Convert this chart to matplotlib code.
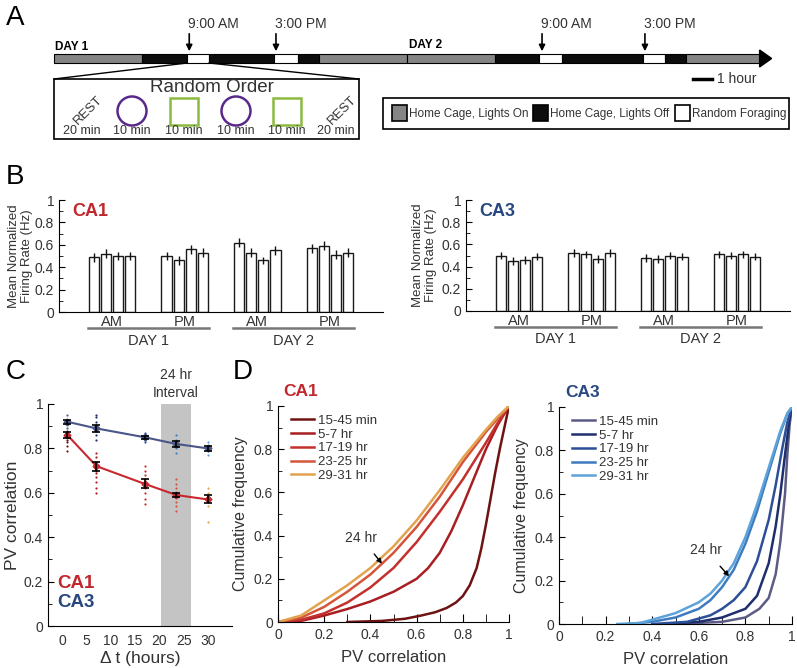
import matplotlib
matplotlib.use("Agg")
import matplotlib.pyplot as plt
from matplotlib.patches import Rectangle, Circle, Polygon
from matplotlib.ticker import MultipleLocator, FuncFormatter
import matplotlib.transforms as mtransforms

plt.rcParams['font.family'] = ['Liberation Sans', 'DejaVu Sans']

RED = '#c0282d'
BLUE = '#28467f'
TXT = '#333333'

# ---- panel A: timeline (hours from start of day 1) ----
tl_edges = [0, 6.0, 9.05, 10.55, 15.0, 16.6, 18.0, 24.0, 30.0, 33.0, 34.55, 40.05, 41.55, 43.0, 48.0]
tl_states = ['on', 'off', 'rf', 'off', 'rf', 'off', 'on', 'on', 'off', 'rf', 'off', 'rf', 'off', 'on']
tl_arrows = [9.2, 15.1, 33.2, 40.2]
tl_arrow_labels = ['9:00 AM', '3:00 PM', '9:00 AM', '3:00 PM']
state_colors = {'on': '#858585', 'off': '#0d0d0d', 'rf': 'white'}
state_names = {'on': 'Home Cage, Lights On', 'off': 'Home Cage, Lights Off', 'rf': 'Random Foraging'}
session_items = ['REST', 'circle', 'square', 'circle', 'square', 'REST']
session_mins = [20, 10, 10, 10, 10, 20]

# ---- panel B: mean normalized firing rate ----
groups = ['AM', 'PM', 'AM', 'PM']
days = ['DAY 1', 'DAY 2']
ca1_rate = [0.49, 0.52, 0.50, 0.50, 0.50, 0.46, 0.56, 0.53,
            0.62, 0.53, 0.46, 0.55, 0.57, 0.59, 0.51, 0.53]
ca1_rate_err = [0.04, 0.04, 0.04, 0.04, 0.04, 0.04, 0.04, 0.04,
                0.04, 0.04, 0.035, 0.04, 0.04, 0.04, 0.04, 0.04]
ca3_rate = [0.50, 0.45, 0.46, 0.49, 0.52, 0.51, 0.47, 0.52,
            0.48, 0.47, 0.50, 0.49, 0.51, 0.50, 0.51, 0.49]
ca3_rate_err = [0.035, 0.035, 0.035, 0.03, 0.035, 0.035, 0.035, 0.035,
                0.035, 0.035, 0.035, 0.03, 0.03, 0.03, 0.035, 0.03]

# ---- panel C: PV correlation vs delta t ----
dt_hours = [1, 7, 17, 23.5, 30]
ca1_pv = [0.86, 0.72, 0.64, 0.59, 0.57]
ca1_pv_err = [0.012, 0.02, 0.02, 0.01, 0.018]
ca3_pv = [0.92, 0.89, 0.85, 0.82, 0.80]
ca3_pv_err = [0.01, 0.015, 0.008, 0.012, 0.01]
ca1_indiv = [[0.79, 0.81, 0.83, 0.84, 0.85, 0.86, 0.87, 0.88],
             [0.60, 0.62, 0.65, 0.67, 0.69, 0.70, 0.72, 0.74, 0.76, 0.78],
             [0.55, 0.57, 0.60, 0.62, 0.64, 0.66, 0.68, 0.70, 0.72],
             [0.52, 0.54, 0.56, 0.58, 0.59, 0.60, 0.62, 0.64, 0.66],
             [0.47, 0.54, 0.56, 0.58, 0.60, 0.62]]
ca3_indiv = [[0.89, 0.91, 0.93, 0.95],
             [0.84, 0.86, 0.88, 0.90, 0.92, 0.94, 0.95],
             [0.83, 0.84, 0.86, 0.87],
             [0.78, 0.80, 0.82, 0.84, 0.86],
             [0.77, 0.79, 0.81, 0.83]]

# ---- panel D: cumulative PV correlation ----
interval_labels = ['15-45 min', '5-7 hr', '17-19 hr', '23-25 hr', '29-31 hr']
ca1_colors = ['#6e1212', '#a81e22', '#c4302c', '#d4553a', '#e3a24e']
ca3_colors = ['#5b5b86', '#1f2f6e', '#2c4f98', '#3f7bbf', '#5da3da']
ca1_cdf_x = [[0.3, 0.45, 0.55, 0.62, 0.68, 0.73, 0.77, 0.8, 0.83, 0.86, 0.88, 0.9, 0.92, 0.94, 0.96, 0.98, 1.0],
             [0, 0.1, 0.2, 0.3, 0.4, 0.5, 0.6, 0.65, 0.7, 0.75, 0.8, 0.85, 0.9, 0.95, 1.0],
             [0, 0.1, 0.2, 0.3, 0.4, 0.5, 0.6, 0.7, 0.8, 0.9, 0.95, 1.0],
             [0, 0.1, 0.2, 0.3, 0.4, 0.5, 0.6, 0.7, 0.8, 0.9, 0.95, 1.0],
             [0, 0.1, 0.2, 0.3, 0.4, 0.5, 0.6, 0.7, 0.8, 0.9, 0.95, 1.0]]
ca1_cdf_y = [[0, 0.005, 0.015, 0.03, 0.045, 0.065, 0.09, 0.12, 0.17, 0.25, 0.34, 0.45, 0.57, 0.69, 0.80, 0.90, 1.0],
             [0, 0.005, 0.03, 0.06, 0.095, 0.14, 0.20, 0.25, 0.32, 0.42, 0.54, 0.67, 0.80, 0.91, 1.0],
             [0, 0.01, 0.04, 0.09, 0.16, 0.25, 0.37, 0.51, 0.66, 0.83, 0.92, 1.0],
             [0, 0.02, 0.07, 0.14, 0.22, 0.32, 0.44, 0.58, 0.74, 0.88, 0.94, 1.0],
             [0, 0.03, 0.10, 0.17, 0.25, 0.35, 0.47, 0.61, 0.76, 0.89, 0.95, 1.0]]
ca3_cdf_x = [[0.5, 0.7, 0.8, 0.86, 0.9, 0.93, 0.95, 0.97, 0.98, 0.99, 1.0],
             [0.45, 0.6, 0.7, 0.8, 0.85, 0.9, 0.93, 0.95, 0.97, 0.99, 1.0],
             [0.4, 0.55, 0.65, 0.7, 0.75, 0.8, 0.85, 0.9, 0.93, 0.96, 0.98, 1.0],
             [0.3, 0.4, 0.5, 0.6, 0.65, 0.7, 0.75, 0.8, 0.85, 0.9, 0.95, 0.98, 1.0],
             [0.25, 0.35, 0.4, 0.5, 0.6, 0.65, 0.7, 0.75, 0.8, 0.85, 0.9, 0.95, 0.98, 1.0]]
ca3_cdf_y = [[0, 0.01, 0.03, 0.07, 0.12, 0.23, 0.38, 0.60, 0.78, 0.92, 1.0],
             [0, 0.01, 0.03, 0.07, 0.13, 0.28, 0.45, 0.60, 0.78, 0.95, 1.0],
             [0, 0.01, 0.04, 0.07, 0.11, 0.17, 0.29, 0.48, 0.64, 0.82, 0.93, 1.0],
             [0, 0.01, 0.03, 0.07, 0.11, 0.17, 0.25, 0.37, 0.52, 0.70, 0.88, 0.97, 1.0],
             [0, 0.005, 0.02, 0.05, 0.10, 0.14, 0.20, 0.28, 0.40, 0.55, 0.72, 0.89, 0.97, 1.0]]

fig = plt.figure(figsize=(7.97, 6.68), dpi=100)

# ================= A =================
axA = fig.add_axes([0, 0, 1, 1])
axA.set_xlim(0, 797)
axA.set_ylim(668, 0)
axA.axis('off')

X0, PXH = 54, 14.7   # timeline origin (px) and px per hour
def hx(h):
    return X0 + h * PXH

bar_top, bar_bot = 54, 63
for i, st in enumerate(tl_states):
    x0, x1 = hx(tl_edges[i]), hx(tl_edges[i + 1])
    axA.add_patch(Rectangle((x0, bar_top), x1 - x0, bar_bot - bar_top,
                            facecolor=state_colors[st], edgecolor='black', lw=0.8))
xe = hx(tl_edges[-1])
axA.add_patch(Polygon([[xe, bar_top - 4], [xe + 12, (bar_top + bar_bot) / 2], [xe, bar_bot + 4]],
                      closed=True, facecolor='black', edgecolor='black'))
for h, lab in zip(tl_arrows, tl_arrow_labels):
    axA.annotate('', xy=(hx(h), bar_top), xytext=(hx(h), 31),
                 arrowprops=dict(arrowstyle='-|>', color='black', lw=1.2, mutation_scale=9))
    axA.text(hx(h) - 1, 24, lab, fontsize=10, ha='left', va='center', color=TXT)
axA.text(hx(0) + 1, 47, 'DAY 1', fontsize=8.5, fontweight='bold', ha='left', va='center')
axA.text(hx(24) + 2, 45, 'DAY 2', fontsize=8.5, fontweight='bold', ha='left', va='center')

# zoom box for first session
s0, s1 = hx(tl_edges[2]), hx(tl_edges[3])
bx0, bx1, by0, by1 = 54, 359, 79, 139
axA.plot([s0, bx0], [bar_bot, by0], color='black', lw=1)
axA.plot([s1, bx1], [bar_bot, by0], color='black', lw=1)
axA.add_patch(Rectangle((bx0, by0), bx1 - bx0, by1 - by0, facecolor='white', edgecolor='black', lw=1.2))
axA.text((bx0 + bx1) / 2 + 5, 88, 'Random Order', fontsize=13.5, ha='center', va='center', color=TXT)
item_x = [82, 132, 184, 236, 287, 336]
for xi, item, m in zip(item_x, session_items, session_mins):
    if item == 'REST':
        axA.text(xi + 6, 110, 'REST', fontsize=9.5, rotation=45, ha='center', va='center', color=TXT)
    elif item == 'circle':
        axA.add_patch(Circle((xi, 111), 14.5, facecolor='none', edgecolor='#5a2a8a', lw=1.8))
    else:
        axA.add_patch(Rectangle((xi - 14, 97.5), 28, 27, facecolor='none', edgecolor='#8abb3e', lw=1.8))
    axA.text(xi, 131, f'{m} min', fontsize=9, ha='center', va='center', color=TXT)

# scale bar
axA.plot([693, 712], [79, 79], color='black', lw=2.5)
axA.text(717, 79, '1 hour', fontsize=10, ha='left', va='center', color=TXT)

# legend box
axA.add_patch(Rectangle((383, 98), 406, 31, facecolor='white', edgecolor='black', lw=1.2))
for xl, st in zip([392, 533, 675], ['on', 'off', 'rf']):
    axA.add_patch(Rectangle((xl, 105), 15, 16, facecolor=state_colors[st], edgecolor='black', lw=1.2))
    axA.text(xl + 17, 113.5, state_names[st], fontsize=8.5, ha='left', va='center', color=TXT)

for lab, (x, y) in zip('ABCD', [(6, 18), (6, 177), (6, 372), (233, 372)]):
    fig.text(x / 797, 1 - y / 668, lab, fontsize=20, ha='left', va='center')


# ================= B =================
def style_axes(ax):
    ax.spines['top'].set_visible(False)
    ax.spines['right'].set_visible(False)
    ax.tick_params(direction='in', labelsize=10, labelcolor=TXT, length=4)
    ax.tick_params(which='minor', direction='in', length=3)


def bar_panel(ax, vals, errs, name, color, label_x):
    xs = [g * 6 + i for g in range(4) for i in range(4)]
    ax.bar(xs, vals, width=0.85, color='white', edgecolor='#1a1a1a', lw=1)
    ax.errorbar(xs, vals, yerr=errs, fmt='none', ecolor='#111111', elinewidth=1)
    ax.set_xlim(-2.9, 23.9)
    ax.set_ylim(0, 1)
    style_axes(ax)
    ax.set_xticks([])
    ax.yaxis.set_major_locator(MultipleLocator(0.2))
    ax.yaxis.set_minor_locator(MultipleLocator(0.1))
    ax.yaxis.set_major_formatter(FuncFormatter(lambda v, p: f'{v:g}'))
    ax.set_ylabel('Mean Normalized\nFiring Rate (Hz)', fontsize=9.5, color=TXT, linespacing=1.15)
    ax.yaxis.set_label_coords(label_x, 0.5)
    ax.text(0.04, 0.9, name, transform=ax.transAxes, fontsize=13, fontweight='bold',
            color=color, ha='left', va='center')
    tr = mtransforms.blended_transform_factory(ax.transData, ax.transAxes)
    for g, lab in enumerate(groups):
        ax.text(g * 6 + 1.5, -0.09, lab, transform=tr, fontsize=10.5, ha='center', va='center', color=TXT)
    for d, lab in enumerate(days):
        ax.plot([d * 12 - 0.5, d * 12 + 9.5], [-0.145, -0.145], transform=tr, color='#777777',
                lw=1.8, clip_on=False)
        ax.text(d * 12 + 4.5, -0.255, lab, transform=tr, fontsize=10.5, ha='center', va='center', color=TXT)


axB1 = fig.add_axes([59 / 797, (668 - 312) / 668, 324 / 797, 112 / 668])
bar_panel(axB1, ca1_rate, ca1_rate_err, 'CA1', RED, -0.08)
axB2 = fig.add_axes([466 / 797, (668 - 311) / 668, 324 / 797, 111 / 668])
bar_panel(axB2, ca3_rate, ca3_rate_err, 'CA3', BLUE, -0.088)

# ================= C =================
axC = fig.add_axes([48 / 797, (668 - 626) / 668, 184 / 797, 222 / 668])
style_axes(axC)
axC.axvspan(20.3, 26.5, color='#c4c4c4', lw=0, zorder=0)
for t, vals, c in zip(dt_hours, ca1_indiv, ca1_colors):
    axC.scatter([t] * len(vals), vals, s=2.5, color=c, lw=0, zorder=2)
for t, vals, c in zip(dt_hours, ca3_indiv, ca3_colors):
    axC.scatter([t] * len(vals), vals, s=2.5, color=c, lw=0, zorder=2)
axC.plot(dt_hours, ca3_pv, color='#4a5688', lw=1.5, marker='D', ms=3.5, zorder=3)
axC.errorbar(dt_hours, ca3_pv, yerr=ca3_pv_err, fmt='none', ecolor='black', elinewidth=1.2,
             capsize=3, capthick=1.2, zorder=4)
axC.plot(dt_hours, ca1_pv, color='#c8282d', lw=1.5, marker='D', ms=3.5, zorder=3)
axC.errorbar(dt_hours, ca1_pv, yerr=ca1_pv_err, fmt='none', ecolor='black', elinewidth=1.2,
             capsize=3, capthick=1.2, zorder=4)
axC.set_xlim(-3, 35)
axC.set_ylim(0, 1)
axC.set_xticks([0, 5, 10, 15, 20, 25, 30])
axC.yaxis.set_major_locator(MultipleLocator(0.2))
axC.yaxis.set_minor_locator(MultipleLocator(0.1))
axC.yaxis.set_major_formatter(FuncFormatter(lambda v, p: f'{v:g}'))
axC.tick_params(axis='x', length=0, pad=6)
axC.set_xlabel('\u0394 t (hours)', fontsize=12.5, color=TXT, labelpad=2)
axC.set_ylabel('PV correlation', fontsize=12.5, color=TXT, labelpad=3)
trC = mtransforms.blended_transform_factory(axC.transData, axC.transAxes)
axC.text(23.4, 1.02, '24 hr\nInterval', transform=trC, fontsize=10, ha='center', va='bottom',
         color=TXT, linespacing=1.3)
axC.text(0.05, 0.19, 'CA1', transform=axC.transAxes, fontsize=13.5, fontweight='bold', color=RED, va='center')
axC.text(0.05, 0.105, 'CA3', transform=axC.transAxes, fontsize=13.5, fontweight='bold', color=BLUE, va='center')


# ================= D =================
def cdf_panel(ax, xs, ys, colors, name, ncolor, note_xy, note_tip):
    style_axes(ax)
    for x, y, c, lab in zip(xs, ys, colors, interval_labels):
        ax.plot(x, y, color=c, lw=1.8, label=lab)
    ax.set_xlim(0, 1)
    ax.set_ylim(0, 1)
    for a in (ax.xaxis, ax.yaxis):
        a.set_major_locator(MultipleLocator(0.2))
        a.set_minor_locator(MultipleLocator(0.1))
        a.set_major_formatter(FuncFormatter(lambda v, p: f'{v:g}'))
    ax.tick_params(axis='x', which='both', length=6)
    ax.tick_params(axis='x', pad=4)
    ax.set_xlabel('PV correlation', fontsize=12, color=TXT, labelpad=6)
    ax.set_ylabel('Cumulative frequency', fontsize=11.5, color=TXT, labelpad=4)
    ax.legend(loc='upper left', bbox_to_anchor=(0.035, 0.985), frameon=False, fontsize=9.5,
              handlelength=1.7, labelspacing=0.12, handletextpad=0.3, borderaxespad=0.0,
              labelcolor=TXT)
    ax.text(0.1, 1.065, name, transform=ax.transAxes, fontsize=12.5, fontweight='bold',
            color=ncolor, ha='center', va='center')
    ax.annotate('24 hr', xy=note_tip, xytext=note_xy, fontsize=10, color=TXT, ha='center', va='center',
                arrowprops=dict(arrowstyle='-|>', color='black', lw=1, mutation_scale=7, shrinkA=6, shrinkB=0))


axD1 = fig.add_axes([278 / 797, (668 - 622) / 668, 231 / 797, 216 / 668])
cdf_panel(axD1, ca1_cdf_x, ca1_cdf_y, ca1_colors, 'CA1', RED, (0.36, 0.39), (0.45, 0.27))
axD2 = fig.add_axes([559 / 797, (668 - 624) / 668, 233 / 797, 217 / 668])
cdf_panel(axD2, ca3_cdf_x, ca3_cdf_y, ca3_colors, 'CA3', BLUE, (0.63, 0.34), (0.73, 0.22))

fig.savefig('out.png', dpi=100)
